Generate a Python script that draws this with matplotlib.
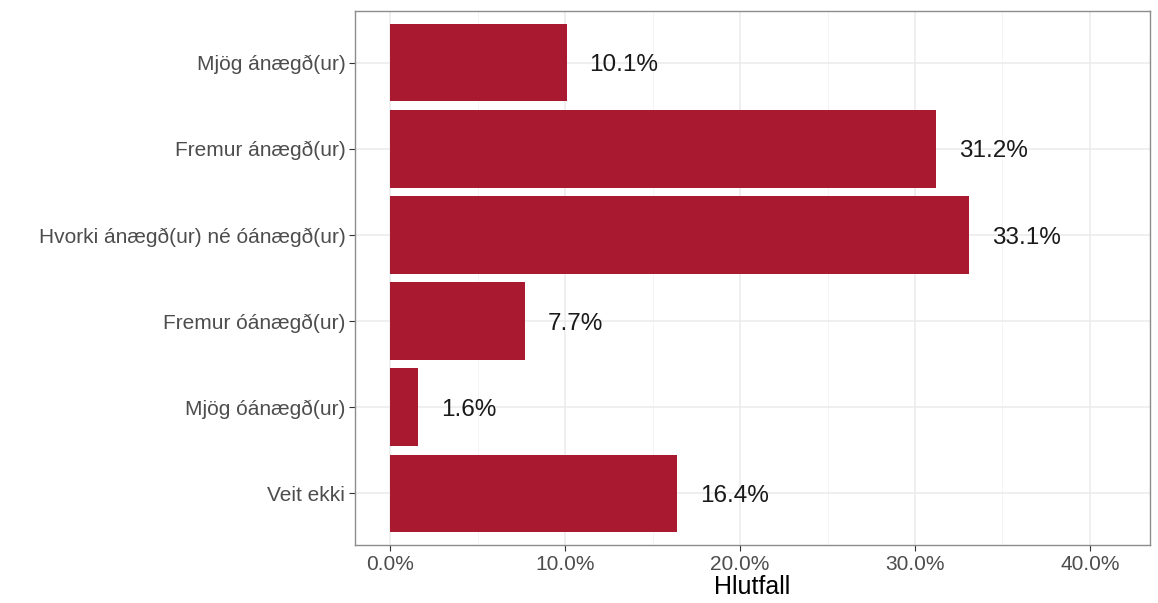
import matplotlib.pyplot as plt
from matplotlib.ticker import FuncFormatter, MultipleLocator

plt.rcParams['font.family'] = ['Liberation Sans', 'DejaVu Sans']

categories = ['Mjög ánægð(ur)', 'Fremur ánægð(ur)', 'Hvorki ánægð(ur) né óánægð(ur)',
              'Fremur óánægð(ur)', 'Mjög óánægð(ur)', 'Veit ekki']
values = [10.1, 31.2, 33.1, 7.7, 1.6, 16.4]
value_labels = ['10.1%', '31.2%', '33.1%', '7.7%', '1.6%', '16.4%']

fig = plt.figure(figsize=(11.58, 6.03), dpi=100)
ax = fig.add_axes([0.3066, 0.0962, 0.6865, 0.8856])

ypos = list(range(len(categories)))
ax.barh(ypos, values, height=0.9, color='#A91A30', zorder=3)
for y, v, lab in zip(ypos, values, value_labels):
    ax.text(v + 1.3, y + 0.03, lab, va='center', ha='left', fontsize=17.5, color='#1a1a1a', zorder=4)

ax.set_yticks(ypos)
ax.set_yticklabels(categories)
ax.set_ylim(len(categories) - 0.4, -0.6)
ax.set_xlim(-2.0, 43.43)
ax.xaxis.set_major_locator(MultipleLocator(10))
ax.xaxis.set_minor_locator(MultipleLocator(5))
ax.xaxis.set_major_formatter(FuncFormatter(lambda x, p: f'{x:.1f}%'))

ax.grid(which='major', color='#EBEBEB', linewidth=1.1, zorder=0)
ax.grid(which='minor', axis='x', color='#F2F2F2', linewidth=0.6, zorder=0)
ax.tick_params(axis='both', which='major', length=4, color='#333333', labelsize=15,
               labelcolor='#4D4D4D', width=0.8, pad=3)
ax.tick_params(axis='x', which='minor', length=0)
for s in ax.spines.values():
    s.set_color('#8C8C8C')
    s.set_linewidth(1.0)

ax.set_xlabel('Hlutfall', fontsize=18, color='#000000', labelpad=1)

fig.savefig('out.png', dpi=100)
